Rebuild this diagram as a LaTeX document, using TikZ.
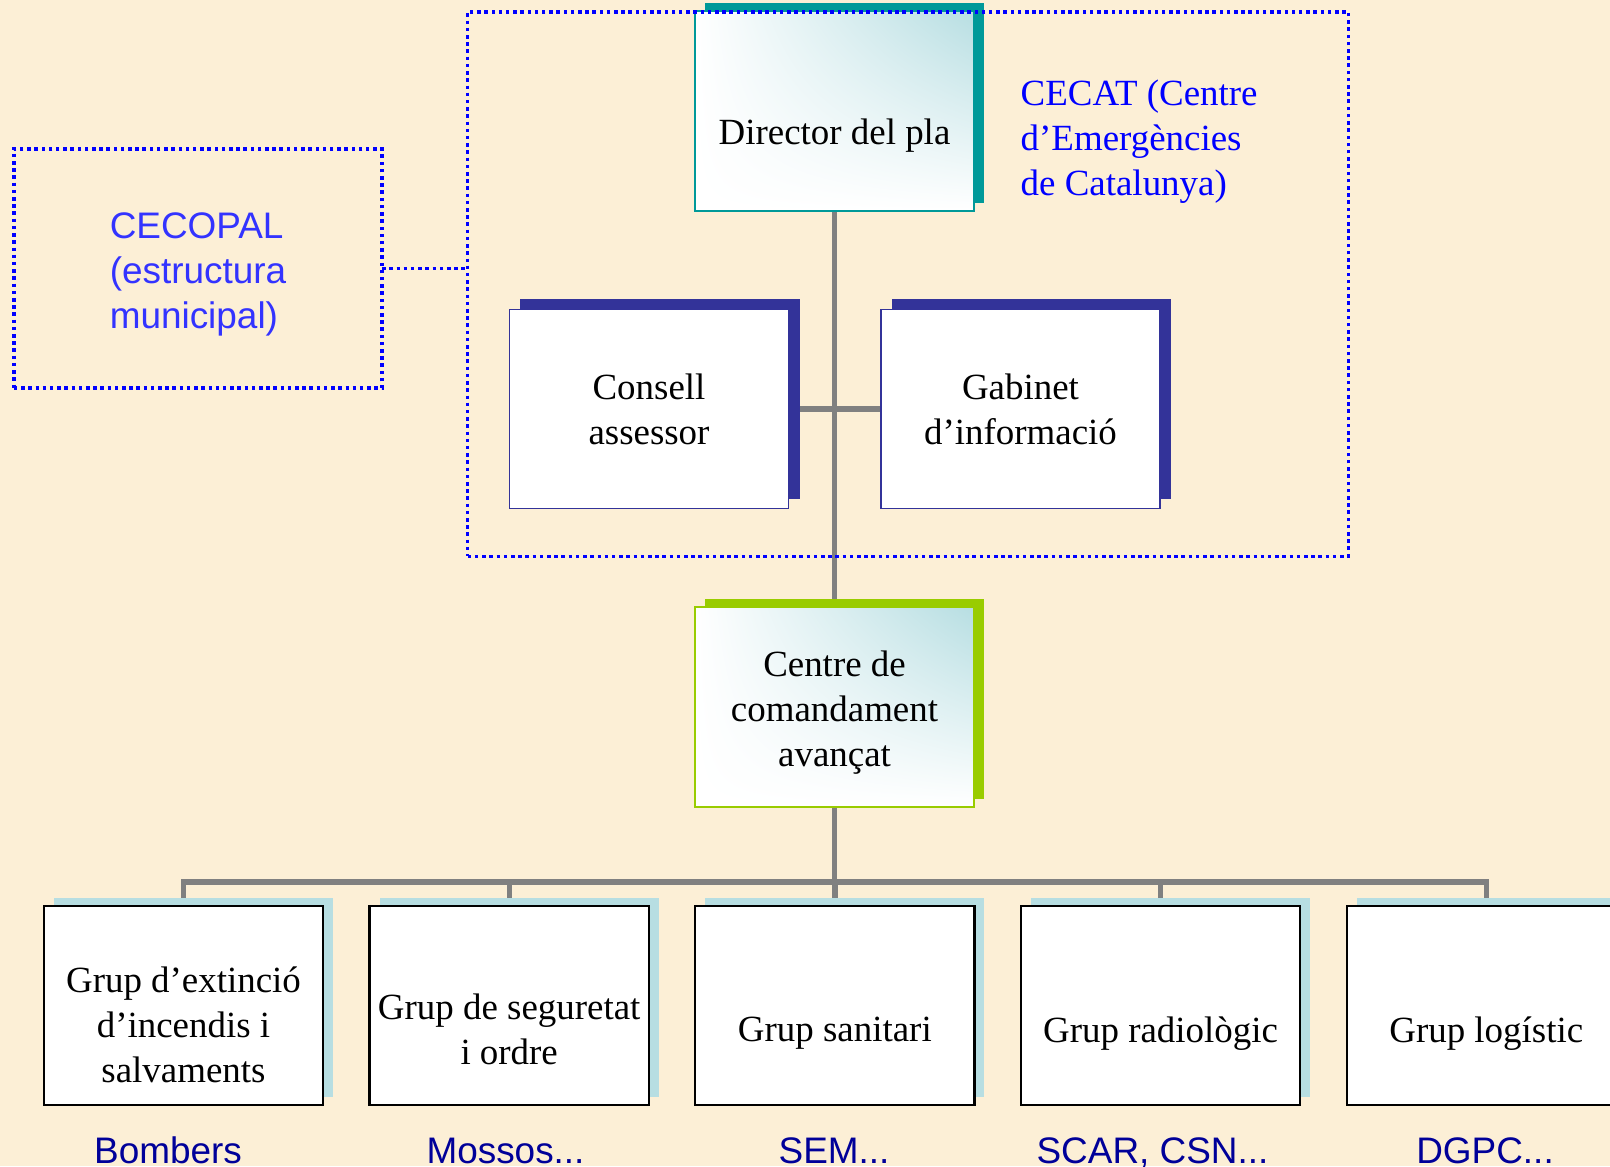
\documentclass[tikz,border=0pt]{standalone}
\usepackage{fontspec}
\setmainfont{Liberation Serif}
\newfontfamily\arialfont{Liberation Sans}
\usetikzlibrary{positioning,shadows,shadings,backgrounds}
\definecolor{bgbeige}{RGB}{252,239,214}
\definecolor{dirteal}{RGB}{0,153,153}
\definecolor{consnavy}{RGB}{51,51,153}
\definecolor{ccagreen}{RGB}{153,204,0}
\definecolor{grplight}{RGB}{183,222,226}
\definecolor{linegrey}{RGB}{128,128,128}
\definecolor{cecatblue}{RGB}{0,0,255}
\definecolor{cecopalblue}{RGB}{51,51,255}
\definecolor{lbldark}{RGB}{0,0,153}

\begin{document}
\begin{tikzpicture}[x=0.01cm, y=-0.01cm,
    every node/.style={font=\fontsize{10.5}{12.8}\selectfont},
    box/.style={rectangle, text centered, align=center, outer sep=0pt, minimum width=2.79cm, minimum height=1.99cm},
    topbox/.style={box, draw=#1, line width=0.55pt, shade, upper left=white, lower left=white, lower right=white, upper right=grplight, general shadow={fill=#1, shadow xshift=0.1cm, shadow yshift=0.08cm}},
    midbox/.style={box, draw=consnavy, line width=0.5pt, fill=white, general shadow={fill=consnavy, shadow xshift=0.11cm, shadow yshift=0.1cm}},
    grp/.style={box, draw=black, line width=0.65pt, fill=white, general shadow={fill=grplight, shadow xshift=0.1cm, shadow yshift=0.08cm}},
    txt/.style={align=center, yshift=-#1 cm},
    dotframe/.style={rectangle, draw=cecatblue, line width=0.95pt, dash pattern=on 1pt off 1.05pt, outer sep=0pt},
    dotline/.style={draw=cecatblue, line width=0.95pt, dash pattern=on 1pt off 1.05pt},
    conn/.style={draw=linegrey, line width=1.5pt},
    sans/.style={font=\arialfont\fontsize{10.5}{12.8}\selectfont},
    lbl/.style={sans, text=lbldark, anchor=base},
    node distance=0.465cm]
    \useasboundingbox (0,0) rectangle (1610,1166);
    \begin{scope}[on background layer]
        \fill[bgbeige] (0,0) rectangle (1610,1166);
    \end{scope}
    \clip (0,0) rectangle (1610,1166);

    \node (director) [topbox=dirteal, minimum height=2cm, label={[txt=0.245]center:Director del pla}] at (834.5,111) {};
    \node (consell) [midbox] at (649,409) {Consell\\assessor};
    \node (gabinet) [midbox] at (1020.5,409) {Gabinet\\d’informació};
    \node (cca) [topbox=ccagreen, label={[txt=0.06]center:{Centre de\\comandament\\avançat}}] at (834.5,707) {};

    \node (g1) [grp, label={[txt=0.19]center:{Grup d’extinció\\d’incendis i\\salvaments}}] at (183.5,1005.5) {};
    \node (g2) [grp, right=of g1, label={[txt=0.24]center:{Grup de seguretat\\i ordre}}] {};
    \node (g3) [grp, right=of g2, label={[txt=0.28]center:Grup sanitari}] {};
    \node (g4) [grp, right=of g3, label={[txt=0.28]center:Grup radiològic}] {};
    \node (g5) [grp, right=of g4, label={[txt=0.28]center:Grup logístic}] {};

    \node (bombers) [lbl] at (168,1163) {Bombers};
    \node (mossos) [lbl] at (505.5,1163) {Mossos...};
    \node (sem) [lbl] at (834,1163) {SEM...};
    \node (scar) [lbl] at (1152.5,1163) {SCAR, CSN...};
    \node (dgpc) [lbl] at (1485,1163) {DGPC...};

    \node (cecat) [dotframe, minimum width=8.8cm, minimum height=5.44cm] at (908,284) {};
    \node (cecattext) [text=cecatblue, align=left, anchor=west, inner sep=0pt] at (1020,142) {CECAT (Centre\\d’Emergències\\de Catalunya)};
    \node (cecopal) [dotframe, minimum width=3.68cm, minimum height=2.39cm, label={[sans, text=cecopalblue, align=left, yshift=-0.06cm]center:{CECOPAL\\(estructura\\municipal)}}] at (198,268.5) {};
    \draw[dotline] (cecopal.east) -- (cecopal.east -| cecat.west);

    \begin{scope}[on background layer]
        \draw[conn] (director) -- (cca);
        \draw[conn] (consell) -- (gabinet);
        \coordinate (bus) at (834.5,882);
        \draw[conn] (cca) -- (bus);
        \foreach \g in {g1,g2,g3,g4,g5}
            \draw[conn] (\g) |- (bus);
    \end{scope}
\end{tikzpicture}
\end{document}
